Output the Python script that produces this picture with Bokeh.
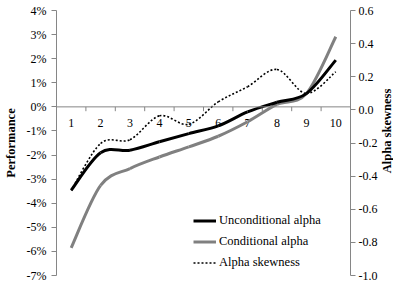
import numpy as np
from bokeh.plotting import figure
from bokeh.layouts import row
from bokeh.models import (Range1d, LinearAxis, FixedTicker, PrintfTickFormatter,
                          Span, ColumnDataSource, Legend, LegendItem)
from bokeh.core.properties import value
from bokeh.embed import file_html
from bokeh.resources import INLINE

# ---- data ----
deciles = [1, 2, 3, 4, 5, 6, 7, 8, 9, 10]
unconditional_alpha = [-3.46, -1.90, -1.80, -1.45, -1.11, -0.79, -0.21, 0.19, 0.55, 1.94]
conditional_alpha = [-5.85, -3.26, -2.56, -2.08, -1.66, -1.22, -0.62, 0.10, 0.55, 2.91]
alpha_skewness = [-0.486, -0.203, -0.18, -0.036, -0.087, 0.048, 0.14, 0.244, 0.099, 0.23]
perf_ticks = [-7, -6, -5, -4, -3, -2, -1, 0, 1, 2, 3, 4]
skew_ticks = [-1.0, -0.8, -0.6, -0.4, -0.2, 0.0, 0.2, 0.4, 0.6]
skew_title = "Alpha skewness"

FONT = "Liberation Serif"
AXIS_GRAY = "#868686"
H = 286
MAIN_W = 380
STRIP_W = 13


def smooth_segments(xs, ys):
    """Bezier segments through the points (Excel-style smoothed line)."""
    x = np.asarray(xs, float)
    y = np.asarray(ys, float)
    n = len(x)
    xp = np.concatenate([[x[0]], x, [x[-1]]])
    yp = np.concatenate([[y[0]], y, [y[-1]]])
    d = dict(x0=[], y0=[], x1=[], y1=[], cx0=[], cy0=[], cx1=[], cy1=[])
    for i in range(n - 1):
        k = i + 1
        d["x0"].append(xp[k]); d["y0"].append(yp[k])
        d["x1"].append(xp[k + 1]); d["y1"].append(yp[k + 1])
        d["cx0"].append(xp[k] + (xp[k + 1] - xp[k - 1]) / 6)
        d["cy0"].append(yp[k] + (yp[k + 1] - yp[k - 1]) / 6)
        d["cx1"].append(xp[k + 1] - (xp[k + 2] - xp[k]) / 6)
        d["cy1"].append(yp[k + 1] - (yp[k + 2] - yp[k]) / 6)
    return ColumnDataSource(d)


p = figure(width=MAIN_W, height=H, output_backend="svg",
           toolbar_location=None, x_axis_location=None,
           x_range=Range1d(0.5, 10.5), y_range=Range1d(perf_ticks[0], perf_ticks[-1]),
           min_border_left=53, min_border_right=20, min_border_top=10, min_border_bottom=11)
p.extra_y_ranges = {"skew": Range1d(skew_ticks[0], skew_ticks[-1])}
p.outline_line_color = None
p.xgrid.visible = False
p.ygrid.visible = False
p.background_fill_color = "white"
p.border_fill_color = "white"


def style_axis(ax):
    ax.axis_line_color = AXIS_GRAY
    ax.major_tick_line_color = AXIS_GRAY
    ax.minor_tick_line_color = None
    ax.major_tick_in = 0
    ax.major_tick_out = 5
    ax.major_label_standoff = 5
    ax.major_label_text_font = FONT
    ax.major_label_text_font_size = "12px"
    ax.major_label_text_color = "black"
    ax.axis_label_text_font = FONT
    ax.axis_label_text_font_size = "12.5px"
    ax.axis_label_text_font_style = "bold"
    ax.axis_label_text_color = "black"
    ax.axis_label_standoff = 6


ya = p.yaxis[0]
ya.ticker = FixedTicker(ticks=perf_ticks)
ya.formatter = PrintfTickFormatter(format="%d%%")
ya.axis_label = "Performance"
style_axis(ya)

ra = LinearAxis(y_range_name="skew",
                ticker=FixedTicker(ticks=skew_ticks),
                formatter=PrintfTickFormatter(format="%.1f"))
style_axis(ra)
ra.major_label_standoff = 3
p.add_layout(ra, "right")

# horizontal axis at zero
p.add_layout(Span(location=0, dimension="width", line_color=AXIS_GRAY, line_width=1))
tick_x = [c + 0.5 for c in deciles[:-1]]
p.segment(x0=tick_x, y0=[0] * len(tick_x), x1=tick_x, y1=[-0.18] * len(tick_x),
          line_color=AXIS_GRAY, line_width=1)
p.text(x=deciles, y=[0] * len(deciles), text=[str(c) for c in deciles],
       text_font=value(FONT), text_font_size="12px", text_align="center",
       text_baseline="middle", y_offset=16, text_color="black")

# series
r_cond = p.bezier(source=smooth_segments(deciles, conditional_alpha), x0="x0", y0="y0",
                  x1="x1", y1="y1", cx0="cx0", cy0="cy0", cx1="cx1", cy1="cy1",
                  line_color="#808080", line_width=3)
r_unc = p.bezier(source=smooth_segments(deciles, unconditional_alpha), x0="x0", y0="y0",
                 x1="x1", y1="y1", cx0="cx0", cy0="cy0", cx1="cx1", cy1="cy1",
                 line_color="black", line_width=3)
r_skew = p.bezier(source=smooth_segments(deciles, alpha_skewness), x0="x0", y0="y0",
                  x1="x1", y1="y1", cx0="cx0", cy0="cy0", cx1="cx1", cy1="cy1",
                  line_color="black", line_width=1.6, line_dash="2 2", y_range_name="skew")

legend = Legend(items=[LegendItem(label="Unconditional alpha", renderers=[r_unc], index=0),
                       LegendItem(label="Conditional alpha", renderers=[r_cond], index=0),
                       LegendItem(label="Alpha skewness", renderers=[r_skew], index=0)],
                location=(137, 2), padding=0, margin=0, spacing=0,
                glyph_width=23, glyph_height=21, label_height=21, label_standoff=3,
                label_text_font=FONT, label_text_font_size="12.5px",
                label_text_color="black",
                background_fill_alpha=0, border_line_alpha=0)
p.add_layout(legend, "center")

# narrow strip carrying the right-hand axis title (reads bottom-to-top)
t = figure(width=STRIP_W, height=H, output_backend="svg", toolbar_location=None,
           x_axis_location=None, y_axis_location=None,
           x_range=Range1d(0, STRIP_W), y_range=Range1d(0, H),
           min_border=0, outline_line_color=None)
t.xgrid.visible = False
t.ygrid.visible = False
t.text(x=[STRIP_W / 2], y=[H - 130], text=[skew_title], angle=np.pi / 2,
       text_font=value(FONT), text_font_size="12.5px", text_font_style="bold",
       text_align="center", text_baseline="middle", text_color="black")

layout = row(p, t, spacing=0)
open("out.html", "w").write(file_html(layout, INLINE))
